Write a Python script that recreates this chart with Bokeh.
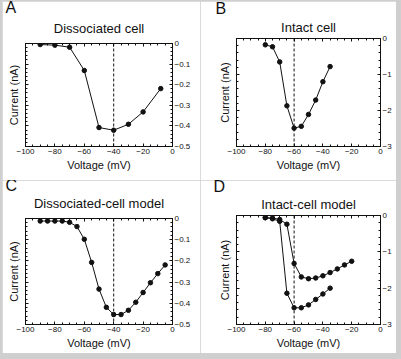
from bokeh.plotting import figure
from bokeh.models import (Range1d, LinearAxis, SingleIntervalTicker, Span, Title, Spacer,
                          CustomJSTickFormatter)
from bokeh.layouts import column, row
from bokeh.embed import file_html
from bokeh.resources import INLINE

# ---- data ----
a_v = [-90, -80, -70, -60, -50, -40, -30, -20, -8]
a_i = [-0.005, -0.008, -0.018, -0.131, -0.408, -0.421, -0.392, -0.332, -0.219]

b_v = [-80, -75, -70, -65, -60, -55, -50, -45, -40, -35]
b_i = [-0.175, -0.23, -0.65, -1.87, -2.49, -2.44, -2.11, -1.71, -1.20, -0.78]

c_v = [-90, -85, -80, -75, -70, -65, -60, -55, -50, -45, -40, -35, -30, -25, -20, -15, -10, -5]
c_i = [-0.012, -0.012, -0.012, -0.012, -0.018, -0.038, -0.098, -0.207, -0.333, -0.419,
       -0.453, -0.453, -0.433, -0.395, -0.349, -0.303, -0.260, -0.219]

d_v1 = [-80, -75, -70, -65, -60, -55, -50, -45, -40, -35, -30, -25, -20]
d_i1 = [-0.06, -0.07, -0.11, -0.24, -1.32, -1.69, -1.74, -1.72, -1.66, -1.57, -1.47, -1.36, -1.26]
d_v2 = [-80, -75, -70, -65, -60, -55, -50, -45, -40, -35]
d_i2 = [-0.06, -0.09, -0.16, -2.14, -2.54, -2.54, -2.46, -2.31, -2.16, -2.00]

letters = ["A", "B", "C", "D"]
titles = ["Dissociated cell", "Intact cell", "Dissociated-cell model", "Intact-cell model"]
dash_at = [-40, -60, -40, -60]
x_label = "Voltage (mV)"
y_label = "Current (nA)"

FONT = "Liberation Sans"
INK = "#111111"
FRAME_GRAY = "#cfcfcf"


def style_axis(ax, show_labels, interval, nminor):
    ax.ticker = SingleIntervalTicker(interval=interval, num_minor_ticks=nminor)
    ax.axis_line_color = INK
    ax.major_tick_line_color = INK
    ax.minor_tick_line_color = INK
    ax.major_tick_in = 3
    ax.major_tick_out = 0
    ax.minor_tick_in = 2
    ax.minor_tick_out = 0
    ax.major_label_text_font = FONT
    ax.major_label_text_color = INK
    ax.major_label_text_font_size = "8px"
    if show_labels:
        ax.major_label_standoff = 3
    else:
        ax.formatter = CustomJSTickFormatter(code="return ''")
        ax.major_label_standoff = 0
    ax.axis_label_text_font = FONT
    ax.axis_label_text_font_style = "normal"
    ax.axis_label_text_font_size = "11px"
    ax.axis_label_text_color = INK


def panel(letter, title, xs_list, ys_list, ymin, yint, dash, w, h, borders,
          title_standoff, letter_offset, letter_standoff):
    bl, br, bt, bb = borders
    p = figure(width=w, height=h, x_range=Range1d(-100, 0), y_range=Range1d(ymin, 0),
               output_backend="svg", toolbar_location=None, x_axis_location=None,
               y_axis_location=None, min_border_left=bl, min_border_right=br,
               min_border_top=bt, min_border_bottom=bb)
    # outermost title: the panel letter
    p.title.text = letter
    p.title.align = "left"
    p.title.offset = letter_offset
    p.title.text_font = FONT
    p.title.text_font_size = "16px"
    p.title.text_font_style = "normal"
    p.title.text_color = INK
    p.title.standoff = letter_standoff
    p.grid.visible = False
    p.outline_line_color = INK
    p.background_fill_color = "white"
    p.border_fill_color = "white"

    bottom = LinearAxis(axis_label=x_label)
    style_axis(bottom, True, 20, 4)
    bottom.major_label_standoff = 2
    bottom.axis_label_standoff = 2
    top = LinearAxis()
    style_axis(top, False, 20, 4)
    left = LinearAxis(axis_label=y_label)
    style_axis(left, False, yint, 5)
    left.axis_label_standoff = 6
    right = LinearAxis()
    style_axis(right, True, yint, 5)
    right.major_label_standoff = 2
    p.add_layout(bottom, "below")
    p.add_layout(top, "above")
    p.add_layout(left, "left")
    p.add_layout(right, "right")

    p.add_layout(Title(text=title, align="center", text_font=FONT, text_font_size="13px",
                       text_font_style="normal", text_color=INK,
                       standoff=title_standoff), "above")

    p.add_layout(Span(location=dash, dimension="height", line_color=INK,
                      line_dash="3 2", line_width=1))
    for xs, ys in zip(xs_list, ys_list):
        p.line(xs, ys, line_color=INK, line_width=1)
        p.scatter(xs, ys, size=4.5, fill_color=INK, line_color=INK)
    return p


pA = panel(letters[0], titles[0], [a_v], [a_i], -0.5, 0.1, dash_at[0], 198, 179,
           (23, 28, 42, 34), 15, -20, -9)
pB = panel(letters[1], titles[1], [b_v], [b_i], -3, 1, dash_at[1], 196, 179,
           (34, 16, 36, 34), 8, -21, -7)
pC = panel(letters[2], titles[2], [c_v], [c_i], -0.5, 0.1, dash_at[2], 198, 173,
           (23, 28, 38, 29), 15, -20, -14)
pD = panel(letters[3], titles[3], [d_v1, d_v2], [d_i1, d_i2], -3, 1, dash_at[3], 196, 173,
           (36, 16, 33, 29), 8, -23, -9)

layout = row(
    Spacer(width=2, height=359),
    column(Spacer(width=198, height=1), pA, pC, Spacer(width=198, height=6), spacing=0),
    column(Spacer(width=196, height=1), pB, pD, Spacer(width=196, height=6), spacing=0),
    Spacer(width=5, height=359),
    spacing=0,
    styles={"background-color": FRAME_GRAY},
)

open("out.html", "w").write(file_html(layout, INLINE))
